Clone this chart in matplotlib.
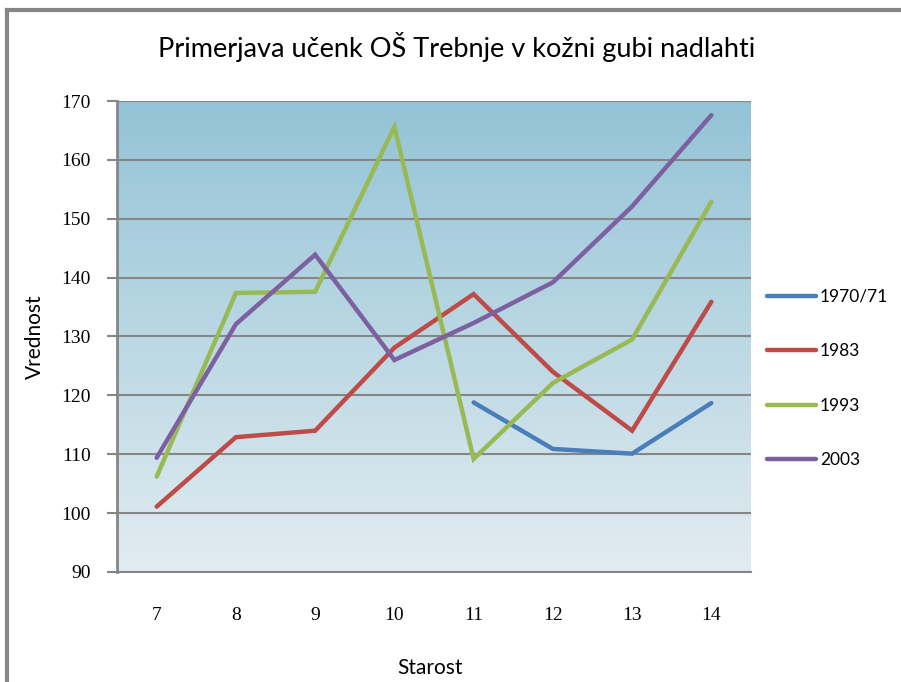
import numpy as np
import matplotlib
matplotlib.use("Agg")
from matplotlib import pyplot as plt
from matplotlib.colors import LinearSegmentedColormap
from matplotlib.lines import Line2D

ages = [7, 8, 9, 10, 11, 12, 13, 14]
s1970 = [np.nan, np.nan, np.nan, np.nan, 118.8, 110.9, 110.1, 118.7]
s1983 = [101.1, 112.9, 114.0, 128.1, 137.2, 124.0, 114.0, 135.9]
s1993 = [106.2, 137.4, 137.6, 165.6, 109.2, 122.1, 129.5, 152.9]
s2003 = [109.4, 132.1, 143.9, 126.0, 132.3, 139.2, 152.1, 167.6]
labels = ["1970/71", "1983", "1993", "2003"]
colors = ["#4A7EBB", "#BE4B48", "#98B954", "#7D60A0"]
yticks = [90, 100, 110, 120, 130, 140, 150, 160, 170]

sans = ["Lato", "DejaVu Sans"]

fig = plt.figure(figsize=(9.01, 6.82), dpi=100)
ax = fig.add_axes([0.1299, 0.1613, 0.7036, 0.6906])

# gradient background
cmap = LinearSegmentedColormap.from_list("bg", ["#E2ECF1", "#93C3D6"])
grad = np.linspace(0, 1, 256).reshape(-1, 1)
ax.imshow(grad, cmap=cmap, aspect="auto", origin="lower",
          extent=[0, 1, 0, 1], transform=ax.transAxes, zorder=0)

x = np.arange(len(ages))
for vals, lab, c in zip([s1970, s1983, s1993, s2003], labels, colors):
    ax.plot(x, vals, color=c, lw=3.2, label=lab, zorder=3,
            solid_capstyle="round", solid_joinstyle="miter")

ax.set_xlim(-0.5, len(ages) - 0.5)
ax.set_ylim(90, 170)
ax.set_yticks(yticks)
ax.set_xticks(x)
ax.set_xticklabels([str(a) for a in ages])
ax.yaxis.grid(True, color="#868686", lw=1.5)
for gl in ax.get_ygridlines():
    gl.set_zorder(1)

for sp in ["top", "right"]:
    ax.spines[sp].set_visible(False)
ax.spines["left"].set_color("#868686")
ax.spines["left"].set_linewidth(2)
ax.spines["bottom"].set_color("#868686")
ax.spines["bottom"].set_linewidth(1.5)
ax.tick_params(axis="y", length=7, width=1.5, color="#868686", pad=12,
               labelsize=14)
ax.tick_params(axis="x", length=0, pad=25, labelsize=14)
for t in ax.get_xticklabels() + ax.get_yticklabels():
    t.set_fontfamily("Liberation Serif")

fig.text(35 / 901, 1 - 337 / 682, "Vrednost", rotation=90, ha="center",
         va="center", fontsize=15, family=sans)
fig.text(430 / 901, 1 - 668 / 682, "Starost", ha="center", va="center",
         fontsize=15, family=sans)

fig.text(457 / 901, 1 - 47 / 682, "Primerjava učenk OŠ Trebnje v kožni gubi nadlahti",
         ha="center", va="center", fontsize=19.5, family=sans)

handles = [Line2D([0], [0], color=c, lw=3.2, solid_capstyle="round") for c in colors]
fig.legend(handles, labels, loc="upper left", bbox_to_anchor=(0.834, 0.5997),
           frameon=False, handlelength=2.8, handletextpad=0.25,
           labelspacing=2.22, prop={"family": sans, "size": 12.5})

# outer frame (left and top edges visible)
fig.add_artist(Line2D([0.0077, 0.0077], [0, 0.985], transform=fig.transFigure,
                      color="#868686", lw=3))
fig.add_artist(Line2D([0.0077, 1], [0.985, 0.985], transform=fig.transFigure,
                      color="#868686", lw=3))

fig.savefig("out.png", dpi=100)
